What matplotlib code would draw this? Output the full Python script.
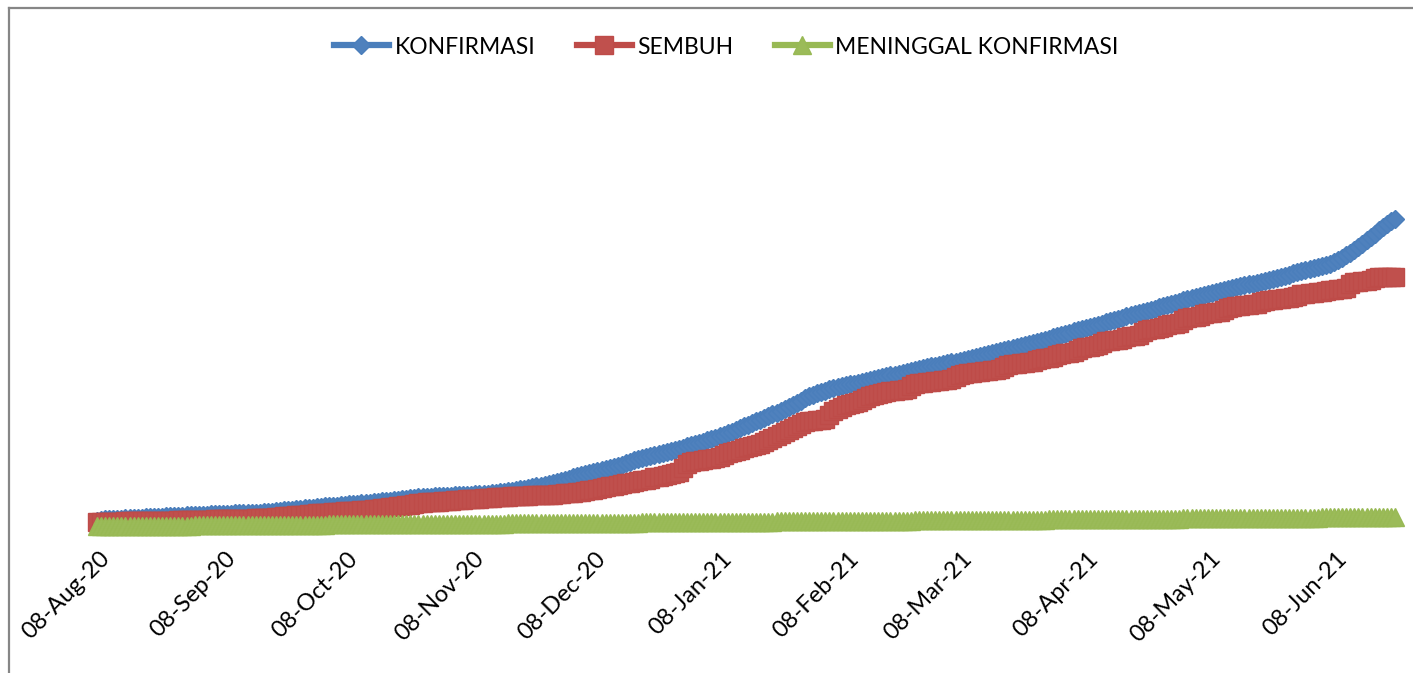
import numpy as np
import pandas as pd
import matplotlib
matplotlib.use('Agg')
import matplotlib.pyplot as plt
import matplotlib.dates as mdates
from matplotlib.transforms import ScaledTranslation
from matplotlib.lines import Line2D

plt.rcParams['font.family'] = ['Lato', 'DejaVu Sans']

start_date = '2020-08-08'

# kumulatif harian (satu baris = 10 hari)
konfirmasi = [
    600, 700, 760, 790, 810, 830, 850, 870, 890, 910,
    930, 950, 970, 990, 1010, 1030, 1050, 1070, 1090, 1110,
    1130, 1150, 1170, 1190, 1205, 1220, 1235, 1250, 1265, 1280,
    1295, 1310, 1325, 1340, 1355, 1370, 1385, 1400, 1415, 1430,
    1445, 1460, 1480, 1520, 1570, 1620, 1670, 1710, 1750, 1790,
    1830, 1870, 1910, 1950, 1990, 2030, 2060, 2090, 2120, 2150,
    2185, 2220, 2255, 2290, 2325, 2360, 2395, 2430, 2465, 2510,
    2555, 2600, 2645, 2690, 2735, 2780, 2825, 2870, 2915, 2960,
    3000, 3020, 3040, 3060, 3080, 3100, 3120, 3140, 3160, 3180,
    3200, 3220, 3240, 3260, 3280, 3300, 3340, 3390, 3440, 3490,
    3540, 3590, 3640, 3690, 3760, 3830, 3900, 3980, 4060, 4140,
    4220, 4300, 4410, 4520, 4630, 4740, 4850, 4960, 5070, 5180,
    5280, 5380, 5480, 5580, 5680, 5780, 5880, 5980, 6100, 6240,
    6380, 6520, 6660, 6760, 6860, 6960, 7060, 7170, 7280, 7390,
    7500, 7610, 7720, 7830, 7940, 8060, 8180, 8300, 8420, 8540,
    8660, 8780, 8900, 9060, 9220, 9380, 9540, 9700, 9880, 10060,
    10240, 10400, 10570, 10740, 10910, 11080, 11260, 11440, 11620, 11800,
    11980, 12160, 12380, 12620, 12860, 13080, 13220, 13360, 13500, 13640,
    13780, 13900, 13990, 14080, 14170, 14260, 14350, 14440, 14530, 14620,
    14710, 14800, 14890, 14980, 15070, 15160, 15250, 15340, 15430, 15520,
    15610, 15700, 15790, 15880, 15970, 16060, 16150, 16230, 16310, 16390,
    16470, 16550, 16630, 16710, 16790, 16890, 16990, 17090, 17190, 17290,
    17390, 17490, 17590, 17690, 17790, 17890, 17990, 18090, 18190, 18290,
    18390, 18490, 18610, 18730, 18850, 18970, 19090, 19210, 19330, 19450,
    19560, 19670, 19780, 19890, 20000, 20110, 20220, 20340, 20460, 20580,
    20700, 20820, 20940, 21060, 21180, 21300, 21410, 21520, 21630, 21740,
    21850, 21960, 22070, 22180, 22300, 22420, 22540, 22660, 22780, 22900,
    23020, 23140, 23250, 23350, 23450, 23550, 23650, 23750, 23850, 23950,
    24030, 24110, 24190, 24270, 24350, 24430, 24510, 24590, 24700, 24810,
    24920, 25030, 25140, 25250, 25360, 25470, 25580, 25690, 25800, 25910,
    26020, 26130, 26240, 26350, 26460, 26700, 26950, 27200, 27450, 27750,
    28050, 28350, 28700, 29020, 29340, 29660, 29980, 30300, 30600, 30850,
]

sembuh = [
    500, 500, 520, 530, 540, 540, 550, 560, 570, 570,
    580, 590, 600, 600, 610, 620, 620, 630, 640, 650,
    660, 670, 680, 700, 710, 720, 730, 740, 750, 760,
    770, 780, 790, 800, 810, 820, 830, 840, 850, 870,
    880, 890, 900, 940, 980, 1020, 1060, 1100, 1130, 1160,
    1200, 1240, 1280, 1320, 1360, 1400, 1420, 1450, 1480, 1500,
    1530, 1560, 1590, 1620, 1650, 1680, 1710, 1750, 1800, 1850,
    1900, 1950, 2000, 2050, 2100, 2150, 2200, 2250, 2320, 2400,
    2430, 2460, 2490, 2520, 2550, 2580, 2610, 2640, 2670, 2700,
    2730, 2760, 2790, 2820, 2850, 2880, 2900, 2950, 2980, 3000,
    3020, 3040, 3060, 3080, 3100, 3120, 3140, 3160, 3180, 3200,
    3220, 3240, 3250, 3300, 3350, 3380, 3400, 3450, 3500, 3550,
    3650, 3700, 3750, 3850, 3950, 4000, 4100, 4150, 4200, 4300,
    4400, 4450, 4550, 4600, 4700, 4750, 4850, 5000, 5050, 5100,
    5200, 5300, 5400, 5500, 5900, 6300, 6500, 6600, 6650, 6700,
    6800, 6850, 6900, 7000, 7200, 7400, 7500, 7600, 7700, 7900,
    8000, 8100, 8200, 8300, 8500, 8700, 8900, 9100, 9300, 9500,
    9700, 9900, 10100, 10300, 10500, 10600, 10650, 10700, 10750, 10800,
    11200, 11600, 11800, 12000, 12200, 12300, 12400, 12500, 12700, 12900,
    13100, 13200, 13300, 13400, 13500, 13600, 13650, 13700, 13750, 13800,
    14100, 14300, 14400, 14450, 14500, 14550, 14600, 14650, 14700, 14750,
    14800, 15000, 15200, 15300, 15400, 15450, 15500, 15550, 15600, 15650,
    15700, 15750, 15800, 16000, 16200, 16300, 16350, 16400, 16450, 16500,
    16550, 16700, 16800, 16900, 16950, 17000, 17200, 17350, 17400, 17450,
    17500, 17700, 17900, 18000, 18050, 18100, 18200, 18400, 18600, 18650,
    18700, 18750, 18800, 19000, 19100, 19150, 19200, 19500, 19700, 19800,
    19850, 19900, 20000, 20200, 20300, 20350, 20400, 20700, 20900, 21000,
    21050, 21100, 21300, 21400, 21450, 21500, 21550, 21700, 21900, 22000,
    22100, 22150, 22200, 22250, 22300, 22350, 22500, 22600, 22700, 22750,
    22800, 22850, 22900, 22950, 23000, 23100, 23300, 23350, 23400, 23450,
    23500, 23550, 23600, 23700, 23750, 23800, 23850, 23900, 24300, 24500,
    24550, 24600, 24650, 24700, 24900, 25000, 25000, 25050, 25050, 25050,
]

meninggal = [
    80, 83, 86, 89, 92, 95, 98, 101, 104, 107,
    110, 113, 116, 119, 122, 125, 128, 131, 134, 137,
    140, 143, 146, 149, 152, 155, 158, 161, 164, 167,
    170, 173, 176, 179, 182, 185, 188, 191, 194, 197,
    200, 203, 206, 209, 212, 215, 218, 221, 224, 227,
    230, 233, 236, 239, 242, 245, 248, 251, 254, 257,
    260, 263, 266, 269, 272, 275, 278, 281, 284, 287,
    290, 292, 294, 296, 298, 300, 302, 304, 306, 308,
    310, 312, 314, 316, 318, 320, 322, 324, 326, 328,
    330, 332, 334, 336, 338, 340, 342, 344, 346, 348,
    350, 353, 356, 359, 362, 365, 368, 371, 374, 377,
    380, 383, 386, 389, 392, 395, 398, 401, 404, 407,
    410, 413, 416, 419, 422, 425, 428, 431, 434, 437,
    440, 443, 446, 449, 452, 455, 458, 461, 464, 467,
    470, 473, 476, 479, 482, 485, 488, 491, 494, 497,
    500, 503, 506, 509, 512, 515, 518, 521, 524, 527,
    530, 533, 536, 539, 542, 545, 548, 551, 554, 557,
    560, 563, 566, 569, 572, 575, 578, 581, 584, 587,
    590, 593, 596, 599, 602, 605, 608, 611, 614, 617,
    620, 623, 626, 629, 632, 635, 638, 641, 644, 647,
    650, 653, 656, 659, 662, 665, 668, 671, 674, 677,
    680, 683, 686, 689, 692, 695, 698, 701, 704, 707,
    710, 713, 716, 719, 722, 725, 728, 731, 734, 737,
    740, 743, 746, 749, 752, 755, 758, 761, 764, 767,
    770, 773, 776, 779, 782, 785, 788, 791, 794, 797,
    800, 803, 806, 809, 812, 815, 818, 821, 824, 827,
    830, 833, 836, 839, 842, 845, 848, 851, 854, 857,
    860, 863, 866, 869, 872, 875, 878, 881, 884, 887,
    890, 893, 896, 899, 902, 905, 908, 911, 914, 917,
    920, 923, 926, 929, 932, 935, 938, 941, 944, 947,
    950, 953, 956, 959, 962, 965, 968, 971, 974, 977,
    980, 983, 986, 989, 992, 995, 998, 1001, 1004, 1007,
]

tick_dates = ['2020-08-08', '2020-09-08', '2020-10-08', '2020-11-08', '2020-12-08',
              '2021-01-08', '2021-02-08', '2021-03-08', '2021-04-08', '2021-05-08',
              '2021-06-08']
tick_labels = ['08-Aug-20', '08-Sep-20', '08-Oct-20', '08-Nov-20', '08-Dec-20',
               '08-Jan-21', '08-Feb-21', '08-Mar-21', '08-Apr-21', '08-May-21',
               '08-Jun-21']

labels = ['KONFIRMASI', 'SEMBUH', 'MENINGGAL KONFIRMASI']


def main():
    W, H = 1413, 673
    fig = plt.figure(figsize=(W / 100, H / 100), dpi=100)
    fig.patch.set_facecolor('white')

    x0, x1, y0, ytop = 97, 1395, 527, 100
    ax = fig.add_axes([x0 / W, (H - y0) / H, (x1 - x0) / W, (y0 - ytop) / H])

    n = len(konfirmasi)
    dates = pd.date_range(start_date, periods=n, freq='D')

    ax.plot(dates, konfirmasi, color='#4A7EBB', lw=4.5, marker='D', ms=9,
            mfc='#4F81BD', mec='#4A7EBB', mew=1, clip_on=False, zorder=3, label=labels[0])
    ax.plot(dates, sembuh[:n], color='#BE4B48', lw=4.5, marker='s', ms=13.5,
            mfc='#C0504D', mec='#BE4B48', mew=1, clip_on=False, zorder=4, label=labels[1])
    ax.plot(dates, meninggal[:n], color='#98B954', lw=4.5, marker='^', ms=13.5,
            mfc='#9BBB59', mec='#98B954', mew=1, clip_on=False, zorder=5, label=labels[2])

    ax.set_xlim(dates[0], dates[-1])
    ax.set_ylim(0, (y0 - ytop) * 100)

    ax.set_xticks(pd.to_datetime(tick_dates))
    ax.set_xticklabels(tick_labels, rotation=45, ha='right', va='top',
                       rotation_mode='anchor', fontsize=17)
    ax.tick_params(axis='x', length=0, pad=0)
    ax.set_yticks([])
    offset = ScaledTranslation(0.02, -0.21, fig.dpi_scale_trans)
    for lbl in ax.get_xticklabels():
        lbl.set_transform(lbl.get_transform() + offset)
    for s in ax.spines.values():
        s.set_visible(False)

    fig.legend(loc='center', bbox_to_anchor=(0.514, 1 - 47 / H), ncol=3,
               frameon=False, fontsize=16.5, handlelength=2.4, handletextpad=0.25,
               columnspacing=1.8)

    # bingkai area grafik (hanya sisi kiri dan atas terlihat)
    fig.add_artist(Line2D([9 / W, 9 / W], [0, 1 - 8 / H], color='#868686', lw=1.6))
    fig.add_artist(Line2D([9 / W, 1], [1 - 8 / H, 1 - 8 / H], color='#868686', lw=1.6))

    fig.savefig('out.png', dpi=100)


if __name__ == '__main__':
    main()
